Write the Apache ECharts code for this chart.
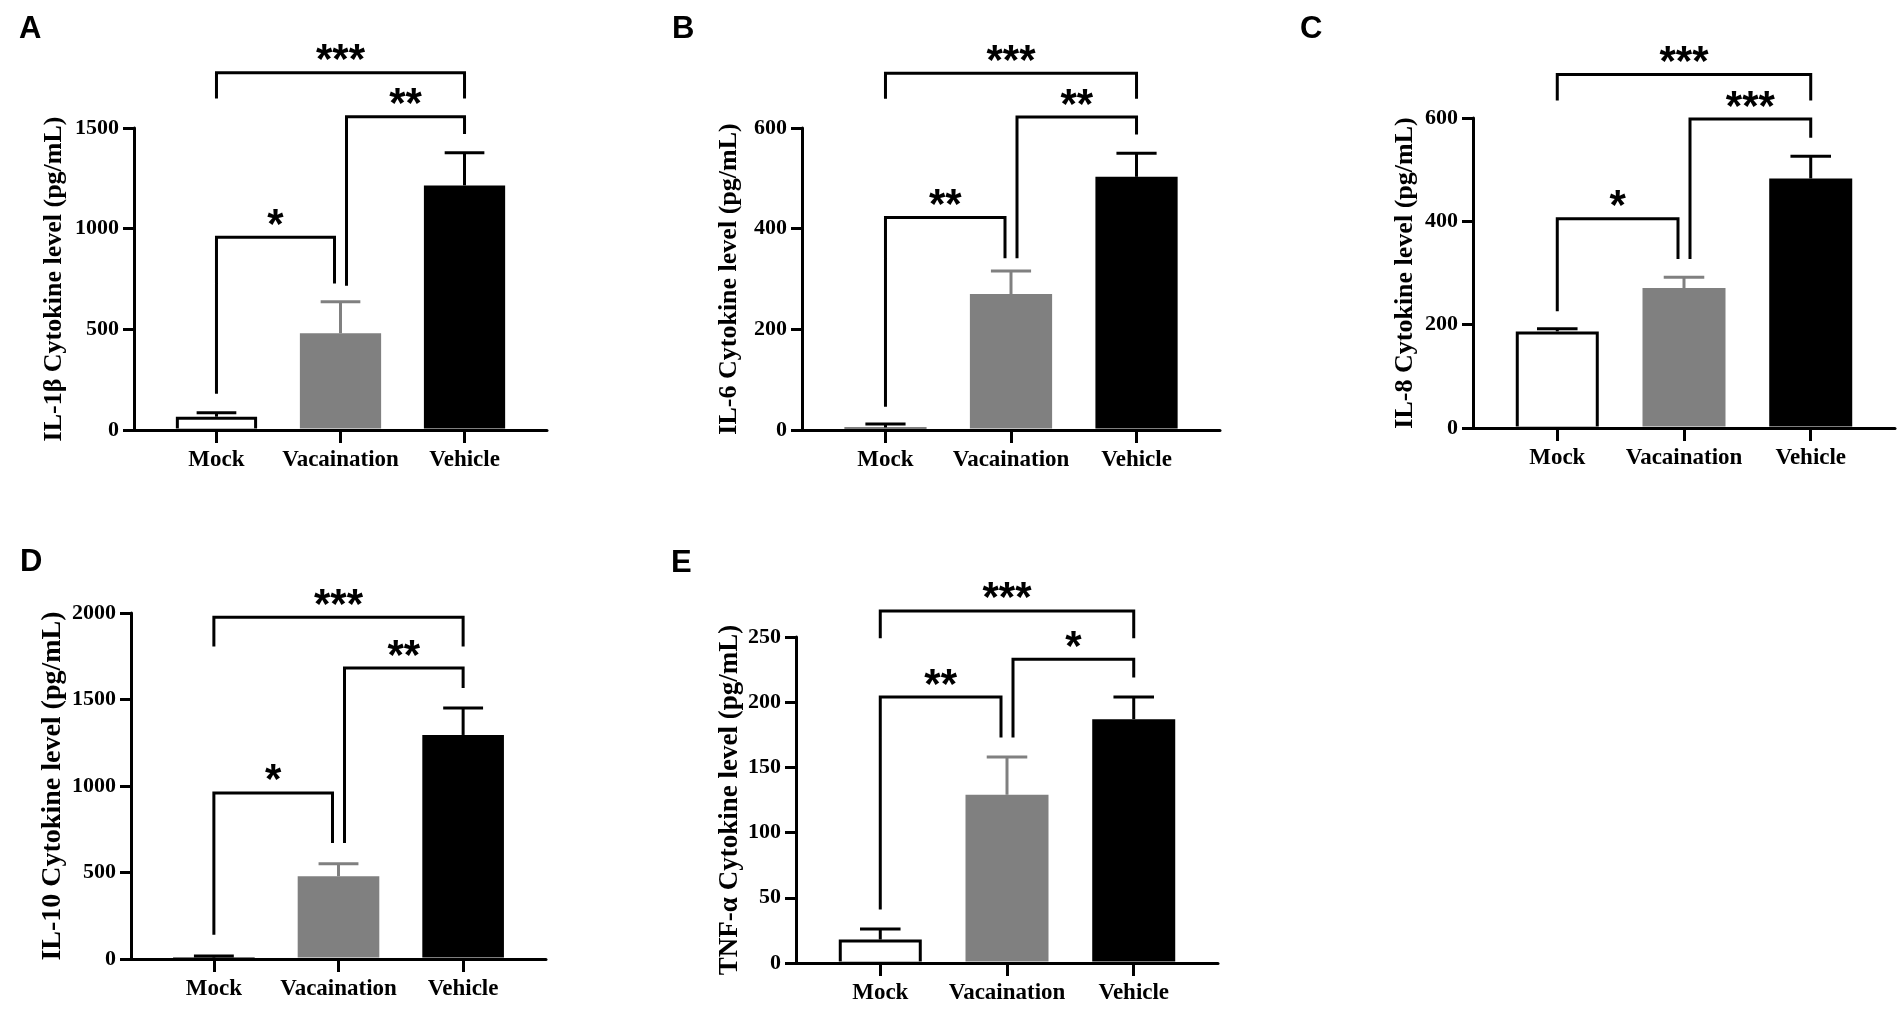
<!DOCTYPE html>
<html>
<head>
<meta charset="utf-8">
<title>Cytokine levels</title>
<script src="https://cdn.jsdelivr.net/npm/echarts@6/dist/echarts.min.js"></script>
<style>
  html, body { margin: 0; padding: 0; background: #fff; }
  #main { width: 1901px; height: 1014px; }
</style>
</head>
<body>
<div id="main"></div>
<script>
// groups on the x axis
const categories = ['Mock', 'Vacaination', 'Vehicle'];

// mean and SD per group
const il1bMean = [66, 480, 1215];
const il1bSd = [20, 157, 162];
const il6Mean = [5, 270, 503];
const il6Sd = [7, 46, 47];
const il8Mean = [187, 271, 483];
const il8Sd = [5, 21, 43];
const il10Mean = [8, 478, 1295];
const il10Sd = [9, 73, 156];
const tnfMean = [18, 129, 187];
const tnfSd = [8, 29, 17];

// y ticks
const il1bTicks = [0, 500, 1000, 1500];
const il6Ticks = [0, 200, 400, 600];
const il8Ticks = [0, 200, 400, 600];
const il10Ticks = [0, 500, 1000, 1500, 2000];
const tnfTicks = [0, 50, 100, 150, 200, 250];

// significance brackets: [from, to, bar level, left leg end, right leg end, stars]
const il1bBrackets = [[0, 1, 957, 180, 728, '*'], [1, 2, 1556, 717, 1470, '**'], [0, 2, 1775, 1647, 1647, '***']];
const il6Brackets = [[0, 1, 422, 46, 341, '**'], [1, 2, 622, 341, 587, '**'], [0, 2, 709, 658, 658, '***']];
const il8Brackets = [[0, 1, 405, 226, 327, '*'], [1, 2, 598, 327, 562, '***'], [0, 2, 684, 634, 634, '***']];
const il10Brackets = [[0, 1, 960, 140, 670, '*'], [1, 2, 1682, 670, 1566, '**'], [0, 2, 1975, 1806, 1806, '***']];
const tnfBrackets = [[0, 1, 204, 41, 173, '**'], [1, 2, 233, 173, 219, '*'], [0, 2, 270, 249, 249, '***']];

const panels = [
  { letter: 'A', name: 'IL-1\u03b2 Cytokine level (pg/mL)', mean: il1bMean, sd: il1bSd, ticks: il1bTicks, brackets: il1bBrackets },
  { letter: 'B', name: 'IL-6 Cytokine level (pg/mL)', mean: il6Mean, sd: il6Sd, ticks: il6Ticks, brackets: il6Brackets },
  { letter: 'C', name: 'IL-8 Cytokine level (pg/mL)', mean: il8Mean, sd: il8Sd, ticks: il8Ticks, brackets: il8Brackets },
  { letter: 'D', name: 'IL-10 Cytokine level (pg/mL)', mean: il10Mean, sd: il10Sd, ticks: il10Ticks, brackets: il10Brackets },
  { letter: 'E', name: 'TNF-\u03b1 Cytokine level (pg/mL)', mean: tnfMean, sd: tnfSd, ticks: tnfTicks, brackets: tnfBrackets }
];

// layout of each panel (pixels)
const layout = [
  { left: 134, top: 128, width: 413, height: 302, nameGap: 67, nameSize: 26, lx: 19, ly: 14 },
  { left: 802, top: 128, width: 418, height: 302, nameGap: 60, nameSize: 26, lx: 672, ly: 14 },
  { left: 1473, top: 118, width: 422, height: 310, nameGap: 55, nameSize: 26, lx: 1300, ly: 14 },
  { left: 131, top: 613, width: 415, height: 346, nameGap: 64, nameSize: 28, lx: 20, ly: 547 },
  { left: 796, top: 637, width: 422, height: 326, nameGap: 52, nameSize: 27, lx: 671, ly: 548 }
];

const SERIF = "'Times New Roman', 'Liberation Serif', serif";
const SANS = "Arial, 'Liberation Sans', sans-serif";
const barFill = ['#ffffff', '#808080', '#000000'];
const barEdge = ['#000000', '#808080', '#000000'];
const errColor = ['#000000', '#808080', '#000000'];
const BAR_FRAC = 0.655;   // bar width in category units
const CAP_FRAC = 0.32;    // error cap width
const LEG_SHIFT = 6;      // legs meeting at the middle bar are split apart
const LW = 3;

function renderBar(params, api) {
  const i = api.value(0);
  const m = api.value(1);
  const s = api.value(2);
  const base = api.coord([i, 0]);
  const top = api.coord([i, m]);
  const cap = api.coord([i, m + s]);
  const w = api.size([BAR_FRAC, 0])[0];
  const cw = api.size([CAP_FRAC, 0])[0];
  const x0 = base[0] - w / 2;
  const h = base[1] - LW / 2 - top[1];
  const kids = [
    { type: 'line', shape: { x1: base[0], y1: top[1], x2: base[0], y2: cap[1] }, style: { stroke: errColor[i], lineWidth: LW } },
    { type: 'line', shape: { x1: base[0] - cw / 2, y1: cap[1], x2: base[0] + cw / 2, y2: cap[1] }, style: { stroke: errColor[i], lineWidth: LW } },
    { type: 'rect', shape: { x: x0, y: top[1], width: w, height: Math.max(h, 1) }, style: { fill: barEdge[i] } }
  ];
  if (barFill[i] !== barEdge[i] && h > 2 * LW) {
    kids.push({ type: 'rect', shape: { x: x0 + LW, y: top[1] + LW, width: w - 2 * LW, height: h - LW }, style: { fill: barFill[i] } });
  }
  return { type: 'group', children: kids };
}

function bracketRenderer(brackets) {
  return function (params, api) {
    const b = brackets[params.dataIndex];
    const from = api.value(0);
    const to = api.value(1);
    const yL = api.coord([0, api.value(2)])[1];
    const y1 = api.coord([0, api.value(3)])[1];
    const y2 = api.coord([0, api.value(4)])[1];
    const x1 = api.coord([from, 0])[0] + (from === 1 ? LEG_SHIFT : 0);
    const x2 = api.coord([to, 0])[0] - (to === 1 ? LEG_SHIFT : 0);
    return {
      type: 'group',
      children: [
        { type: 'polyline', shape: { points: [[x1, y1], [x1, yL], [x2, yL], [x2, y2]] },
          style: { stroke: '#000', lineWidth: LW, fill: null, lineJoin: 'miter' } },
        { type: 'text', x: (x1 + x2) / 2, y: yL - 11,
          style: { text: b[5], fill: '#000', fontFamily: SANS, fontWeight: 'bold', fontSize: 42,
                   align: 'center', verticalAlign: 'middle', textAlign: 'center', textVerticalAlign: 'middle' } }
      ]
    };
  };
}

const option = {
  backgroundColor: '#fff',
  animation: false,
  title: [],
  grid: [],
  xAxis: [],
  yAxis: [],
  series: []
};

panels.forEach(function (p, k) {
  const L = layout[k];
  option.title.push({
    text: p.letter, left: L.lx, top: L.ly, padding: 0,
    textStyle: { fontFamily: SANS, fontWeight: 'bold', fontSize: 31, color: '#000' }
  });
  option.grid.push({ left: L.left, top: L.top, width: L.width, height: L.height, containLabel: false });
  option.xAxis.push({
    gridIndex: k,
    type: 'value',
    min: -0.665,
    max: 2.665,
    splitLine: { show: false },
    axisLine: { show: true, onZero: true, lineStyle: { color: '#000', width: LW } },
    axisTick: { show: true, customValues: [0, 1, 2], length: 13, lineStyle: { color: '#000', width: LW } },
    axisLabel: {
      customValues: [0, 1, 2],
      formatter: function (v) { return categories[Math.round(v)]; },
      fontFamily: SERIF, fontWeight: 'bold', fontSize: 23, color: '#000', margin: 19
    }
  });
  option.yAxis.push({
    gridIndex: k,
    type: 'value',
    min: p.ticks[0],
    max: p.ticks[p.ticks.length - 1],
    interval: p.ticks[1] - p.ticks[0],
    name: p.name,
    nameLocation: 'middle',
    nameGap: L.nameGap,
    nameTextStyle: { fontFamily: SERIF, fontWeight: 'bold', fontSize: L.nameSize, color: '#000' },
    splitLine: { show: false },
    axisLine: { show: true, onZero: false, lineStyle: { color: '#000', width: LW } },
    axisTick: { show: true, length: 11, lineStyle: { color: '#000', width: LW } },
    axisLabel: {
      formatter: function (v) { return String(v); },
      fontFamily: SERIF, fontWeight: 'bold', fontSize: 22, color: '#000', margin: 15
    }
  });
  option.series.push({
    type: 'custom',
    xAxisIndex: k,
    yAxisIndex: k,
    clip: false,
    renderItem: renderBar,
    data: p.mean.map(function (m, i) { return [i, m, p.sd[i]]; })
  });
  option.series.push({
    type: 'custom',
    xAxisIndex: k,
    yAxisIndex: k,
    clip: false,
    renderItem: bracketRenderer(p.brackets),
    data: p.brackets.map(function (b) { return b.slice(0, 5); })
  });
});

const chart = echarts.init(document.getElementById('main'));
chart.setOption(option);
</script>
</body>
</html>
